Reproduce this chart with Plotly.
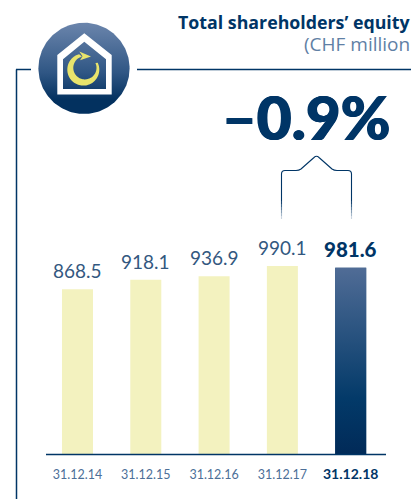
import numpy as np
import plotly.graph_objects as go

dates = ["31.12.14", "31.12.15", "31.12.16", "31.12.17", "31.12.18"]
equity = [868.5, 918.1, 936.9, 990.1, 981.6]
value_labels = ["868.5", "918.1", "936.9", "990.1", "981.6"]
title_main = "Total shareholders\u2019 equity"
title_sub = "(CHF million"
change_label = "\u20130.9%"

NAVY = "#003566"
MID = "#33587f"
PALE = "#f3f2bf"
W, H = 411, 499
BAR_W = 0.454
FONT = "Lato"

xpos = list(range(len(dates)))
ticktext = [d if i < len(dates) - 1 else f'<span style="font-size:14px;color:{NAVY}"><b>{d}</b></span>'
            for i, d in enumerate(dates)]
colors = [PALE] * 4 + ["#1c4672"]

fig = go.Figure()
fig.add_trace(go.Bar(
    x=xpos, y=equity, width=BAR_W, marker=dict(color=colors, line=dict(width=0)),
    cliponaxis=False, showlegend=False, hoverinfo="skip",
))
# gradient body of the highlighted bar, derived from its value
last_x, last_y = xpos[-1], equity[-1]
fig.add_trace(go.Scatter(
    x=[last_x - BAR_W / 2, last_x + BAR_W / 2, last_x + BAR_W / 2, last_x - BAR_W / 2, last_x - BAR_W / 2],
    y=[0, 0, last_y, last_y, 0], mode="lines", line=dict(width=0), fill="toself",
    fillgradient=dict(type="vertical",
                      colorscale=[[0, "#012a58"], [0.3, "#033a69"], [1, "#506c96"]]),
    showlegend=False, hoverinfo="skip",
))

# icon disc on a pixel-based overlay axis
theta = np.linspace(0, 2 * np.pi, 181)
cx, cy, r = 84, 68.3, 45.6
fig.add_trace(go.Scatter(
    x=cx + r * np.cos(theta), y=cy + r * np.sin(theta), xaxis="x2", yaxis="y2",
    mode="lines", line=dict(width=0), fill="toself",
    fillgradient=dict(type="vertical",
                      colorscale=[[0, "#03315f"], [0.15, "#03315f"], [0.45, "#2f5684"], [1, "#6b85ac"]]),
    showlegend=False, hoverinfo="skip",
))

def poly(pts):
    return "M" + " L".join(f"{x:.2f},{y:.2f}" for x, y in pts) + " Z"

# crescent arrow
ca, ccy, cro = 83.3, 69.6, 16.0
t_out = np.radians(np.linspace(-105, -385, 70))
outer = np.c_[ca + cro * np.cos(t_out), ccy + cro * np.sin(t_out)]
t_in = t_out[::-1]
inner_c = (ca + 1.6, ccy - 1.8)
inner_r = 11.6
inner = np.c_[inner_c[0] + inner_r * np.cos(t_in), inner_c[1] + inner_r * np.sin(t_in)]
crescent = poly(list(map(tuple, outer)) + list(map(tuple, inner)))
arrowhead = poly([(79.3, 51.5), (91, 56.5), (80, 60.3), (82.5, 56.3)])
house = (poly([(84.3, 33.3), (111.7, 55), (111.7, 94.4), (57.3, 94.4), (57.3, 55)]) + " "
         + poly([(84.3, 41.7), (106, 59.3), (106, 89), (63, 89), (63, 59.3)]))

shapes = [
    dict(type="path", path=house, fillcolor="white", line_width=0, xref="x2", yref="y2"),
    dict(type="path", path=crescent, fillcolor="#e8e46c", line_width=0, xref="x2", yref="y2"),
    dict(type="path", path=arrowhead, fillcolor="#e8e46c", line_width=0, xref="x2", yref="y2"),
    # frame
    dict(type="line", x0=16.5, x1=16.5, y0=69.5, y1=499, xref="x2", yref="y2", line=dict(color=NAVY, width=1.5)),
    dict(type="line", x0=16, x1=31, y0=69.5, y1=69.5, xref="x2", yref="y2", line=dict(color=NAVY, width=1.5)),
    dict(type="line", x0=137, x1=411, y0=69.5, y1=69.5, xref="x2", yref="y2", line=dict(color=NAVY, width=1.5)),
    # baseline
    dict(type="line", x0=46, x1=386, y0=454.5, y1=454.5, xref="x2", yref="y2", line=dict(color=NAVY, width=1.5)),
    # bracket
    dict(type="path", xref="x2", yref="y2", line=dict(color=NAVY, width=1.1),
        path="M281.5,201 L281.5,174 Q281.5,170.5 285,170.5 L296,170.5 Q299,170.5 301,169 L314,157.5 "
             "Q316.5,155 319,157.5 L332,169 Q334,170.5 337,170.5 L348,170.5 Q351.5,170.5 351.5,174 L351.5,201"),
]
# bracket legs fade out
for i, y0 in enumerate(np.arange(201, 219, 3)):
    op = 0.9 - i * 0.14
    for x in (281.5, 351.5):
        shapes.append(dict(type="line", x0=x, x1=x, y0=y0, y1=y0 + 3, xref="x2", yref="y2",
                           line=dict(color=NAVY, width=1.1), opacity=op))

annotations = [
    dict(x=411, y=22, xshift=2, text=f"<b>{title_main}</b>", xref="x2", yref="y2", xanchor="right", yanchor="middle",
         showarrow=False, font=dict(family="Open Sans", size=17.8, color=NAVY)),
    dict(x=411, y=44, xshift=1, text=title_sub, xref="x2", yref="y2", xanchor="right", yanchor="middle",
         showarrow=False, font=dict(family="Open Sans", size=19, color="#5f80a5")),
    dict(x=305.5, y=117, text=change_label, xref="x2", yref="y2", xanchor="center", yanchor="middle",
         showarrow=False, font=dict(family=FONT, size=60, color=NAVY, weight=900,
                                    shadow="0.7px 0 0 #003566, -0.7px 0 0 #003566")),
]
for i, (xv, yv, lbl) in enumerate(zip(xpos, equity, value_labels)):
    is_last = i == len(xpos) - 1
    annotations.append(dict(
        x=xv, y=yv, text=lbl, xref="x", yref="y", xanchor="center", yanchor="bottom", yshift=5,
        showarrow=False,
        font=dict(family=FONT, size=20.5 if is_last else 19, color=NAVY if is_last else MID,
                  weight=900 if is_last else 400),
    ))

fig.update_layout(
    width=W, height=H, autosize=False, margin=dict(l=0, r=0, t=0, b=0),
    paper_bgcolor="white", plot_bgcolor="rgba(0,0,0,0)", shapes=shapes, annotations=annotations,
    xaxis=dict(domain=[46 / W, 386 / W], range=[-0.461, 4.517], tickmode="array", tickvals=xpos, ticktext=ticktext,
               showgrid=False, zeroline=False, showline=False,
               ticks="outside", ticklen=9, tickcolor="rgba(0,0,0,0)",
               tickfont=dict(family=FONT, size=12.5, color="#4c6f98"), fixedrange=True),
    yaxis=dict(domain=[(H - 454.3) / H, (H - 245) / H], range=[0, 1101], visible=False, fixedrange=True),
    xaxis2=dict(domain=[0, 1], range=[0, W], visible=False, fixedrange=True, anchor="y2"),
    yaxis2=dict(domain=[0, 1], range=[H, 0], visible=False, fixedrange=True, anchor="x2"),
)
fig.write_html("out.html", config=dict(displayModeBar=False),
               post_script="document.body.style.margin='0';document.body.style.overflow='hidden';")
